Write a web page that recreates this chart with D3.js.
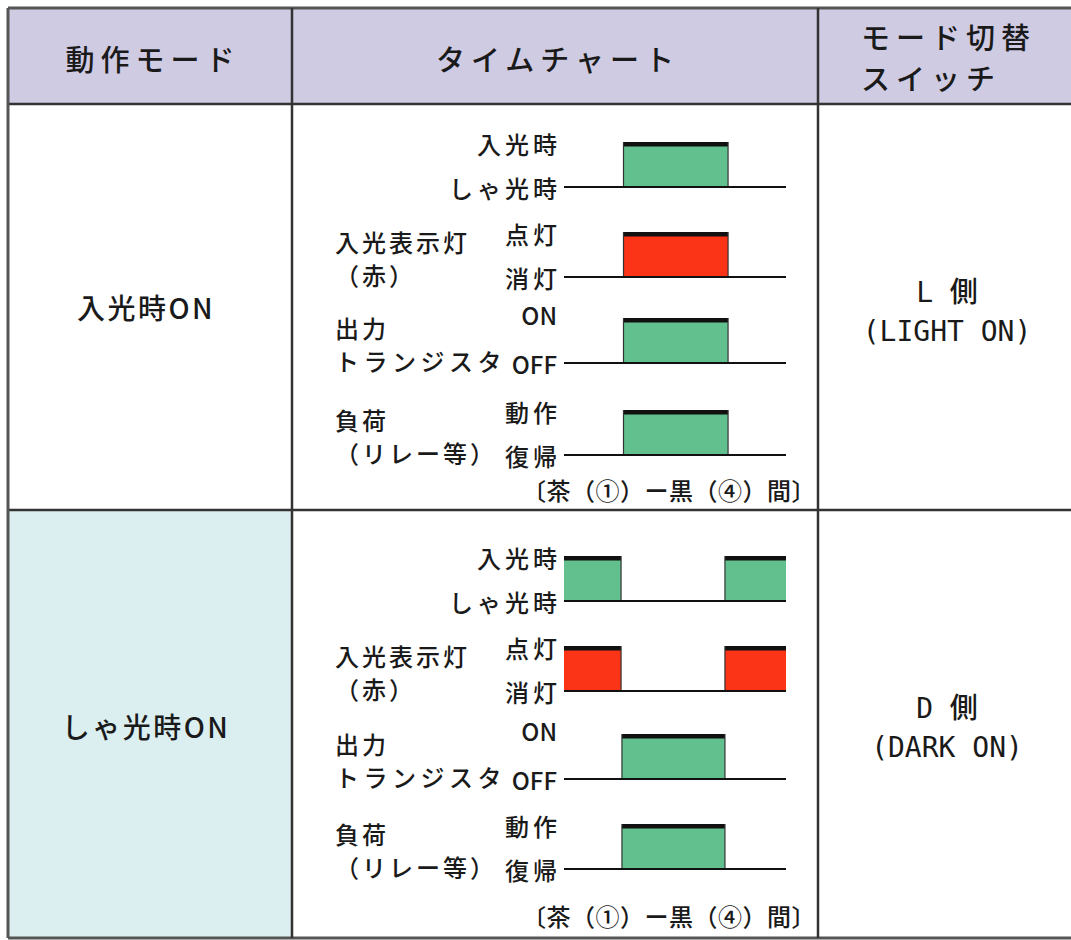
<!DOCTYPE html>
<html><head><meta charset="utf-8">
<script src="https://cdn.jsdelivr.net/npm/d3@7/dist/d3.min.js"></script>
<style>
html,body{margin:0;padding:0;background:#fff;}
svg{display:block;}
text{font-family:"Noto Sans CJK JP","Noto Sans",sans-serif;fill:#1a1a1a;font-weight:500;}
</style></head>
<body>
<script>
// ---------- data ----------
const headers = ["動作モード", "タイムチャート"];
const switchHeader = ["モード切替", "スイッチ"];
const modes = ["入光時ON", "しゃ光時ON"];
const switchLabels = [["L 側", "(LIGHT ON)"], ["D 側", "(DARK ON)"]];
const signalNames = [["", ""], ["入光表示灯", "（赤）"], ["出力", "トランジスタ"], ["負荷", "（リレー等）"]];
const stateHigh = ["入光時", "点灯", "ON", "動作"];
const stateLow = ["しゃ光時", "消灯", "OFF", "復帰"];
const signalColors = ["#62c08f", "#fb3418", "#62c08f", "#62c08f"];
const footnote = "〔茶（①）ー黒（④）間〕";
// pulse intervals (time 0–100) per signal, for each mode
const lightOnPulses = [[[26.8, 73.9]], [[26.8, 73.9]], [[26.8, 73.9]], [[26.8, 73.9]]];
const darkOnPulses = [[[0, 25.7], [72.5, 100]], [[0, 25.7], [72.5, 100]], [[26.1, 72.5]], [[26.1, 72.5]]];
const modePulses = [lightOnPulses, darkOnPulses];

// ---------- layout ----------
const W = 1071, H = 940;
const colX = [8, 292, 818, 1076];
const rowY = [8, 104, 510, 938];
const chartBase = [[187, 277, 363, 455], [601, 691, 779, 869]];
const chartH = 45;
const footY = [489, 915];

const svg = d3.select("body").append("svg").attr("width", W).attr("height", H);

// backgrounds
svg.append("rect").attr("x", colX[0]).attr("y", rowY[0]).attr("width", colX[3] - colX[0]).attr("height", rowY[1] - rowY[0]).attr("fill", "#cfcbe3");
svg.append("rect").attr("x", colX[0]).attr("y", rowY[2]).attr("width", colX[1] - colX[0]).attr("height", rowY[3] - rowY[2]).attr("fill", "#dbeef0");

// grid lines
const lineColor = "#333";
rowY.forEach((y, i) => {
  svg.append("line").attr("x1", colX[0]).attr("x2", colX[3]).attr("y1", y).attr("y2", y)
    .attr("stroke", i === 0 || i === 3 ? "#555" : lineColor).attr("stroke-width", i === 0 || i === 3 ? 3 : 2.5);
});
colX.slice(0, 3).forEach((x, i) => {
  svg.append("line").attr("x1", x).attr("x2", x).attr("y1", rowY[0]).attr("y2", rowY[3])
    .attr("stroke", i === 0 ? "#555" : lineColor).attr("stroke-width", i === 0 ? 3 : 2.5);
});

// headers
svg.append("text").attr("x", (colX[0] + colX[1]) / 2 + 3).attr("y", 58).attr("text-anchor", "middle")
  .attr("dominant-baseline", "central").attr("font-size", 29).attr("letter-spacing", 6).text(headers[0]);
svg.append("text").attr("x", (colX[1] + colX[2]) / 2 + 3).attr("y", 58).attr("text-anchor", "middle")
  .attr("dominant-baseline", "central").attr("font-size", 29).attr("letter-spacing", 6).text(headers[1]);
switchHeader.forEach((t, i) => {
  svg.append("text").attr("x", 861).attr("y", 36 + i * 41).attr("dominant-baseline", "central")
    .attr("font-size", 29).attr("letter-spacing", 6).text(t);
});

// row labels
modes.forEach((m, r) => {
  svg.append("text").attr("x", (colX[0] + colX[1]) / 2 - 4).attr("y", r === 0 ? 307 : 726).attr("text-anchor", "middle")
    .attr("dominant-baseline", "central").attr("font-size", 28).attr("letter-spacing", 2.5).text(m);
  switchLabels[r].forEach((t, i) => {
    svg.append("text").attr("x", 947).attr("y", (r === 0 ? 292 : 708) + i * 39).attr("text-anchor", "middle")
      .attr("dominant-baseline", "central").attr("font-size", 28)
      .style("font-family", "'DejaVu Sans Mono','Noto Sans CJK JP',monospace").text(t);
  });
});

// timing charts
const x = d3.scaleLinear().domain([0, 100]).range([564, 786]);
modePulses.forEach((signals, r) => {
  signals.forEach((pulses, s) => {
    const base = chartBase[r][s];
    const y = d3.scaleLinear().domain([0, 1]).range([base, base - chartH]);
    const g = svg.append("g");
    // fills
    g.selectAll("rect.fill").data(pulses).join("rect").attr("class", "fill")
      .attr("x", d => x(d[0])).attr("width", d => x(d[1]) - x(d[0]))
      .attr("y", y(1)).attr("height", y(0) - y(1)).attr("fill", signalColors[s]);
    // top band
    g.selectAll("rect.top").data(pulses).join("rect").attr("class", "top")
      .attr("x", d => x(d[0])).attr("width", d => x(d[1]) - x(d[0]))
      .attr("y", y(1)).attr("height", 4.5).attr("fill", "#111");
    // edges
    const edges = pulses.flatMap(d => d).filter(t => t > 0 && t < 100);
    g.selectAll("line.edge").data(edges).join("line").attr("class", "edge")
      .attr("x1", d => x(d)).attr("x2", d => x(d)).attr("y1", y(1)).attr("y2", y(0))
      .attr("stroke", "#333").attr("stroke-width", 1.2);
    // baseline
    g.append("line").attr("x1", x(0)).attr("x2", x(100)).attr("y1", y(0)).attr("y2", y(0))
      .attr("stroke", "#111").attr("stroke-width", 2.2);
    // state labels
    const isLatin = s === 2;
    g.append("text").attr("x", isLatin ? 557 : 561).attr("y", y(1) + (isLatin ? -4 : 1)).attr("text-anchor", "end")
      .attr("dominant-baseline", "central").attr("font-size", 24).attr("letter-spacing", isLatin ? 0 : 4).text(stateHigh[s]);
    g.append("text").attr("x", isLatin ? 557 : 561).attr("y", y(0)).attr("text-anchor", "end")
      .attr("dominant-baseline", "central").attr("font-size", 24).attr("letter-spacing", isLatin ? 0 : 4).text(stateLow[s]);
    // signal names
    signalNames[s].forEach((t, i) => {
      if (!t) return;
      g.append("text").attr("x", 335).attr("y", i === 0 ? y(1) + 9 : y(0) - 3)
        .attr("dominant-baseline", "central").attr("font-size", 24).attr("letter-spacing", i === 1 && s === 2 ? 4.5 : 3).text(t);
    });
  });
  svg.append("text").attr("x", 816).attr("y", footY[r]).attr("text-anchor", "end")
    .attr("dominant-baseline", "central").attr("font-size", 24).attr("letter-spacing", 0.5).text(footnote);
});
</script>
</body></html>
